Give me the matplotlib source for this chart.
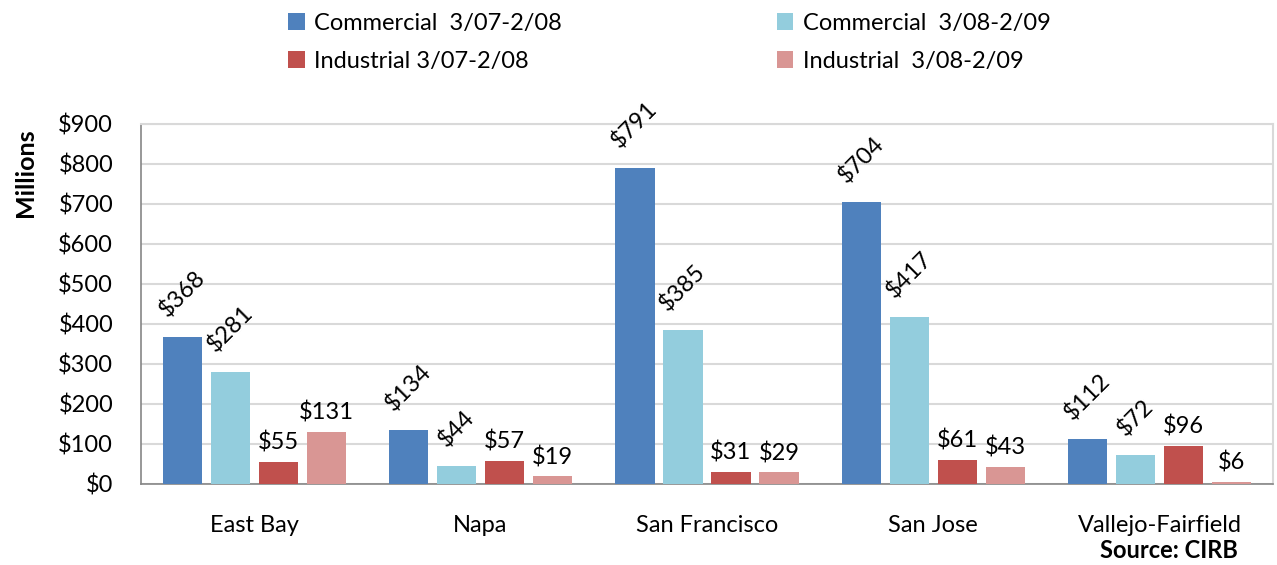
import matplotlib.pyplot as plt
import numpy as np

# Data ($ millions)
regions = ['East Bay', 'Napa', 'San Francisco', 'San Jose', 'Vallejo-Fairfield']
commercial_0708 = [368, 134, 791, 704, 112]
commercial_0809 = [281, 44, 385, 417, 72]
industrial_0708 = [55, 57, 31, 61, 96]
industrial_0809 = [131, 19, 29, 43, 6]

series = [
    ('Commercial  3/07-2/08', commercial_0708, '#4F81BD', 45),
    ('Industrial 3/07-2/08', industrial_0708, '#C0504D', 0),
    ('Commercial  3/08-2/09', commercial_0809, '#93CDDD', 45),
    ('Industrial  3/08-2/09', industrial_0809, '#D99694', 0),
]
# drawing order within each group
bar_order = [0, 2, 1, 3]

plt.rcParams['font.family'] = ['Lato', 'DejaVu Sans']
fs = 17

fig = plt.figure(figsize=(12.77, 5.65), dpi=100)
ax = fig.add_axes([0.1104, 0.1434, 0.8864, 0.6372])

x = np.arange(len(regions))
width = 0.173
pitch = 0.212

handles = {}
for slot, idx in enumerate(bar_order):
    label, values, color, rot = series[idx]
    offset = (slot - 1.5) * pitch
    bars = ax.bar(x + offset, values, width, color=color, label=label, zorder=3)
    handles[idx] = bars
    for b, v in zip(bars, values):
        if rot:
            ax.annotate(f'${v}', xy=(b.get_x() + b.get_width() / 2, v),
                        xytext=(0, 11), textcoords='offset points',
                        ha='center', va='bottom', rotation=45, fontsize=fs)
        else:
            ax.annotate(f'${v}', xy=(b.get_x() + b.get_width() / 2, v),
                        xytext=(0, 6), textcoords='offset points',
                        ha='center', va='bottom', fontsize=fs)

ax.set_xlim(-0.5, len(regions) - 0.5)
ax.set_ylim(0, 900)
ax.set_yticks(range(0, 901, 100))
ax.set_yticklabels([f'${t}' for t in range(0, 901, 100)], fontsize=fs)
ax.set_xticks(x)
ax.set_xticklabels(regions, fontsize=fs)
ax.tick_params(axis='both', length=0)
ax.tick_params(axis='x', pad=22)
ax.tick_params(axis='y', pad=20)

ax.grid(axis='y', color='#D9D9D9', linewidth=1.5, zorder=0)
ax.set_axisbelow(True)
for side in ['left', 'bottom']:
    ax.spines[side].set_color('#868686')
    ax.spines[side].set_linewidth(1.2)
for side in ['top', 'right']:
    ax.spines[side].set_color('#D9D9D9')
    ax.spines[side].set_linewidth(1.5)

fig.text(0.0196, 0.695, 'Millions', rotation=90, fontsize=18, fontweight='bold',
         ha='center', va='center')

fig.legend([handles[i] for i in range(4)], [series[i][0] for i in range(4)],
           loc='upper left', bbox_to_anchor=(0.209, 1.015), ncol=2, frameon=False,
           fontsize=fs, handlelength=0.7, handleheight=0.7, handletextpad=0.4,
           columnspacing=9.1, labelspacing=0.72)

fig.text(0.969, 0.025, 'Source: CIRB', fontsize=fs, fontweight='bold',
         ha='right', va='center')

plt.savefig('out.png', dpi=100, facecolor='white')
plt.close()
